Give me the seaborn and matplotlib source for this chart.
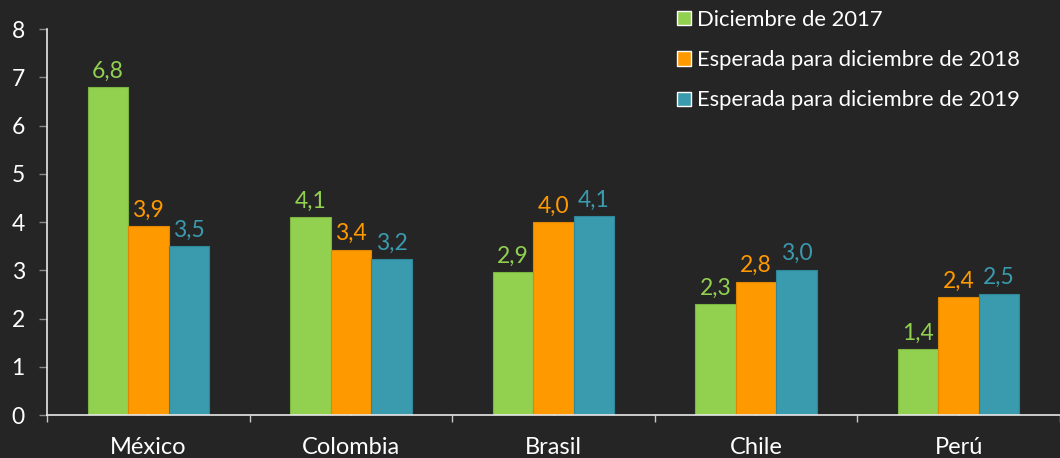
import pandas as pd
import matplotlib
matplotlib.use("Agg")
import matplotlib.pyplot as plt
import seaborn as sns

# data
paises = ["México", "Colombia", "Brasil", "Chile", "Perú"]
series = ["Diciembre de 2017", "Esperada para diciembre de 2018", "Esperada para diciembre de 2019"]
dic_2017 = [6.80, 4.10, 2.96, 2.30, 1.36]
esp_2018 = [3.91, 3.43, 3.99, 2.76, 2.44]
esp_2019 = [3.50, 3.23, 4.12, 3.01, 2.51]
etiquetas_2017 = ["6,8", "4,1", "2,9", "2,3", "1,4"]
etiquetas_2018 = ["3,9", "3,4", "4,0", "2,8", "2,4"]
etiquetas_2019 = ["3,5", "3,2", "4,1", "3,0", "2,5"]

colores = ["#92d050", "#ff9900", "#3a9aae"]
bordes = ["#7cb540", "#e08600", "#2f8899"]
fondo = "#252525"

df = pd.DataFrame({
    "pais": paises * 3,
    "serie": [series[0]] * 5 + [series[1]] * 5 + [series[2]] * 5,
    "valor": dic_2017 + esp_2018 + esp_2019,
})

sns.set_style("dark")
plt.rcParams["font.family"] = ["Lato", "DejaVu Sans"]

fig = plt.figure(figsize=(10.6, 4.58), dpi=100, facecolor=fondo)
ax = fig.add_axes([47 / 1060, 43 / 458, 1013 / 1060, 386 / 458])
ax.set_facecolor(fondo)

sns.barplot(data=df, x="pais", y="valor", hue="serie", palette=colores,
            width=0.6, gap=0, saturation=1, ax=ax, legend=True)

for cont, lab, ec in zip(ax.containers, [etiquetas_2017, etiquetas_2018, etiquetas_2019], bordes):
    for b in cont:
        b.set_edgecolor(ec)
        b.set_linewidth(0.8)
    ax.bar_label(cont, labels=lab, padding=4, fontsize=16.5, color=cont[0].get_facecolor())

ax.set_ylim(0, 8)
ax.set_xlim(-0.5, -0.5 + 1013 / 203.8)
ax.set_xlabel("")
ax.set_ylabel("")
ax.grid(False)

for s in ["top", "right"]:
    ax.spines[s].set_visible(False)
for s in ["left", "bottom"]:
    ax.spines[s].set_visible(True)
    ax.spines[s].set_color("#e8e8e8")
    ax.spines[s].set_linewidth(1.2)

ax.set_yticks(range(0, 9))
ax.tick_params(axis="y", direction="out", length=6, width=1, color="#8a8a8a",
               labelcolor="white", labelsize=16.5, pad=10, left=True)

# category boundaries as major ticks, labels on minor ticks at the centres
ax.set_xticks([i - 0.5 for i in range(6)])
ax.set_xticklabels([])
ax.set_xticks(range(5), minor=True)
ax.set_xticklabels(paises, minor=True)
ax.tick_params(axis="x", which="major", direction="out", length=5, width=1,
               color="#c8c8c8", bottom=True)
ax.tick_params(axis="x", which="minor", direction="in", length=5, width=1,
               color="#e8e8e8", labelcolor="white", labelsize=17, pad=16, bottom=True)

leg = ax.legend(loc="upper left", bbox_to_anchor=(677 / 1060, 1 - 10 / 458),
                bbox_transform=fig.transFigure, frameon=False, fontsize=15.8,
                handlelength=0.62, handleheight=0.62, handletextpad=0.3,
                labelspacing=0.92, borderpad=0, borderaxespad=0)
for t in leg.get_texts():
    t.set_color("white")

fig.savefig("out.png", dpi=100, facecolor=fondo)
